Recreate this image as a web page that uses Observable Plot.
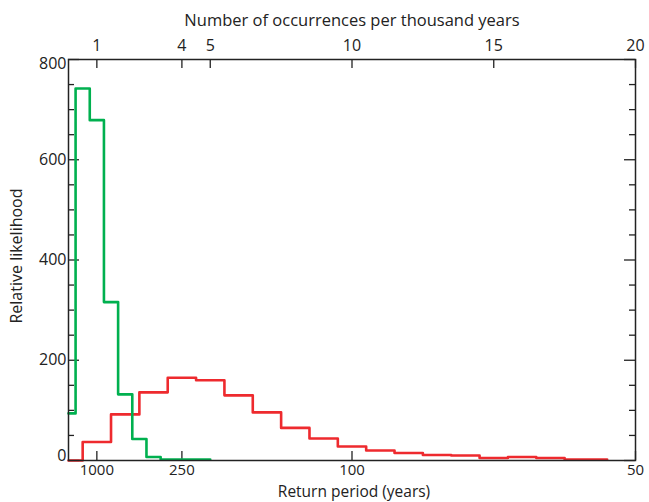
<!DOCTYPE html>
<html><head><meta charset="utf-8">
<script src="https://cdn.jsdelivr.net/npm/d3@7"></script>
<script src="https://cdn.jsdelivr.net/npm/@observablehq/plot@0.6"></script>
<style>body{margin:0;background:#fff}</style>
</head><body><div id="chart"></div>
<script>
// Data
const greenX = [0, 0.5, 1, 1.5, 2, 2.5, 3, 3.5, 4, 4.5, 5];
const greenY = [94, 742, 679, 316, 132, 43, 7, 2, 2, 2, 2];
const redX = [0, 1, 2, 3, 4, 5, 6, 7, 8, 9, 10, 11, 12, 13, 14, 15, 16, 17, 18, 19];
const redY = [0, 37, 92, 136, 165, 160, 130, 96, 65, 44, 28, 20, 15, 11, 10, 5, 7, 5, 2, 2];
const topTicks = [1, 4, 5, 10, 15, 20];
const bottomTicks = [1, 4, 10, 20];
const returnLabels = ["1000", "250", "100", "50"];
const yMajor = [0, 200, 400, 600, 800];
const yMinor = [50, 100, 150, 250, 300, 350, 450, 500, 550, 650, 700, 750];
const yLabelsMid = [200, 400, 600];

const green = greenX.map((x, i) => ({x, y: greenY[i]}));
const red = redX.map((x, i) => ({x, y: redY[i]}));

const W = 649, H = 502;
const mL = 68, mR = 14, mT = 59, mB = 42;
const pw = W - mL - mR, ph = H - mT - mB;
const ink = "#222";

const chart = Plot.plot({
  width: W, height: H,
  marginLeft: mL, marginRight: mR, marginTop: mT, marginBottom: mB,
  style: {fontFamily: "Open Sans", fontSize: "16px", color: ink, background: "#fff"},
  x: {domain: [0, 20]},
  y: {domain: [0, 800]},
  marks: [
    // inward ticks
    Plot.tickY(yMajor, {y: d => d, insetRight: pw - 11, stroke: ink, strokeWidth: 1.3}),
    Plot.tickY(yMajor, {y: d => d, insetLeft: pw - 11, stroke: ink, strokeWidth: 1.3}),
    Plot.tickY(yMinor, {y: d => d, insetRight: pw - 6, stroke: ink, strokeWidth: 1.3}),
    Plot.tickY(yMinor, {y: d => d, insetLeft: pw - 6, stroke: ink, strokeWidth: 1.3}),
    Plot.tickX(topTicks, {x: d => d, insetBottom: ph - 9, stroke: ink, strokeWidth: 1.3}),
    Plot.tickX(bottomTicks, {x: d => d, insetTop: ph - 9, stroke: ink, strokeWidth: 1.3}),
    // tick labels
    Plot.axisY(yLabelsMid, {tickSize: 0, tickPadding: 2, label: null}),
    Plot.axisY([800], {tickSize: 0, tickPadding: 2, label: null, dy: 4}),
    Plot.axisY([0], {tickSize: 0, tickPadding: 2, label: null, dy: -5}),
    Plot.axisX(topTicks, {anchor: "top", tickSize: 0, tickPadding: 9, label: null}),
    Plot.axisX(bottomTicks, {anchor: "bottom", tickSize: 0, tickPadding: 4, label: null, fontSize: 15,
      tickFormat: d => returnLabels[bottomTicks.indexOf(d)]}),
    // axis titles
    Plot.text(["Number of occurrences per thousand years"], {frameAnchor: "top", lineAnchor: "middle", dy: -39, fill: ink, fontSize: 16.5}),
    Plot.text(["Return period (years)"], {frameAnchor: "bottom", lineAnchor: "middle", dy: 31.5, dx: 2, fill: ink, fontSize: 15.5}),
    Plot.text(["Relative likelihood"], {frameAnchor: "left", textAnchor: "middle", lineAnchor: "middle", dx: -52, dy: -4, rotate: -90, fill: ink}),
    // histograms
    Plot.line(red, {x: "x", y: "y", curve: "step", stroke: "#ee2a2e", strokeWidth: 2.6}),
    Plot.line(green, {x: "x", y: "y", curve: "step", stroke: "#00b04f", strokeWidth: 2.6}),
    Plot.frame({stroke: ink, strokeWidth: 1.5})
  ]
});
document.getElementById("chart").append(chart);
</script>
</body></html>
